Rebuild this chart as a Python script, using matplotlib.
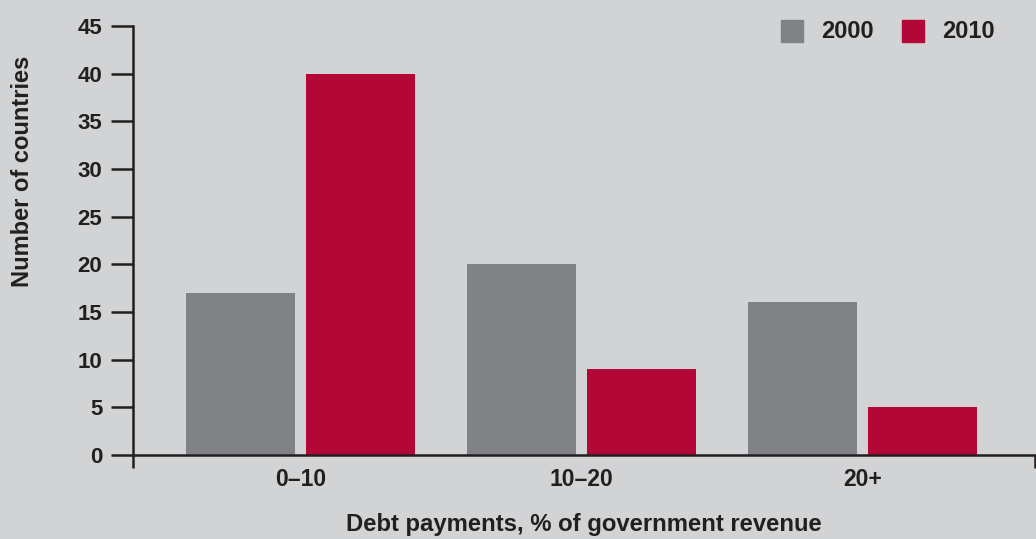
import numpy as np
import matplotlib.pyplot as plt
from matplotlib.patches import Rectangle

categories = ["0–10", "10–20", "20+"]
years = ["2000", "2010"]
counts_2000 = [17, 20, 16]
counts_2010 = [40, 9, 5]
yticks = [0, 5, 10, 15, 20, 25, 30, 35, 40, 45]

bg = "#d1d3d4"
grey = "#808285"
red = "#b20737"
ink = "#231f20"

plt.rcParams['font.family'] = ['Liberation Sans', 'DejaVu Sans']
plt.rcParams['font.weight'] = 'bold'

fig = plt.figure(figsize=(10.36, 5.39), dpi=100, facecolor=bg)
ax = fig.add_axes([0.1284, 0.1558, 0.8706, 0.796])
ax.set_facecolor(bg)

x = np.arange(len(categories))
w = 0.388
off = 0.2135
ax.bar(x - off, counts_2000, w, color=grey, zorder=2)
ax.bar(x + off, counts_2010, w, color=red, zorder=2)

ax.set_xlim(-0.596, 2.614)
ax.set_ylim(0, 45)

for s in ['top', 'right']:
    ax.spines[s].set_visible(False)
for s in ['left', 'bottom']:
    ax.spines[s].set_linewidth(1.8)
    ax.spines[s].set_color(ink)
    ax.spines[s].set_zorder(3)

ax.set_yticks(yticks)
ax.tick_params(axis='y', length=16, width=1.8, color=ink, pad=6,
               labelsize=16, labelcolor=ink)
ax.set_xticks(x)
ax.set_xticklabels(categories)
ax.tick_params(axis='x', length=0, pad=9, labelsize=16.5, labelcolor=ink)
# end ticks on the baseline
ax.set_xticks([-0.596, 2.614], minor=True)
ax.tick_params(axis='x', which='minor', length=9, width=1.8, color=ink)

ax.set_ylabel("Number of countries", fontsize=17, fontweight='bold',
              color=ink, va='center')
ax.yaxis.set_label_coords(-0.123, 0.662)
ax.set_xlabel("Debt payments, % of government revenue", fontsize=17.2,
              fontweight='bold', color=ink, va='center')
ax.xaxis.set_label_coords(0.5, -0.161)

# legend
W, H = 1036, 539
for px, col, lab in [(781, grey, years[0]), (902, red, years[1])]:
    fig.patches.append(Rectangle((px / W, 1 - 42 / H), 22 / W, 22 / H,
                                 transform=fig.transFigure, color=col))
    fig.text((px + 40) / W, 1 - 31 / H, lab, fontsize=17, color=ink,
             va='center', ha='left')

fig.savefig("out.png", dpi=100, facecolor=bg)
